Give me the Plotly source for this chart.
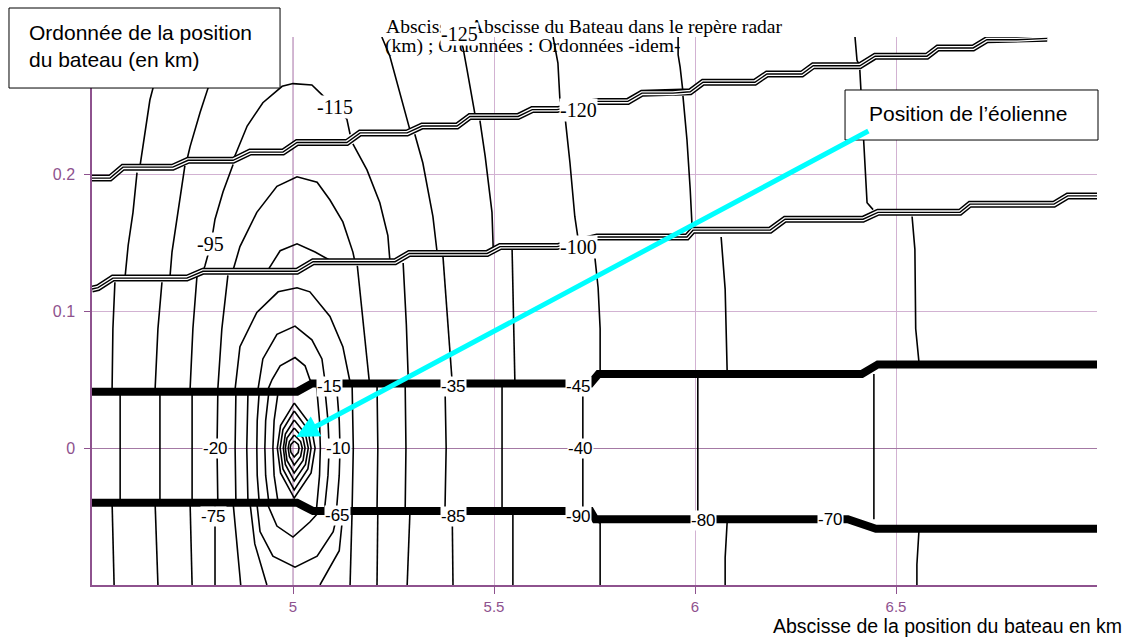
import plotly.graph_objects as go

# ---------------- axes ----------------
x_range = [4.5, 7.0]
y_range = [-0.1, 0.3]
x_ticks = [5, 5.5, 6, 6.5]
x_tick_text = ["5", "5.5", "6", "6.5"]
y_ticks = [0, 0.1, 0.2]
y_tick_text = ["0", "0.1", "0.2"]

# ---------------- iso-level lines (x km, y km) ----------------
# region above the upper step band
top_lines = [
    [(4.644, 0.300), (4.652, 0.263), (4.644, 0.254), (4.632, 0.229), (4.619, 0.205)],
    [(4.800, 0.300), (4.789, 0.263), (4.769, 0.245), (4.744, 0.220), (4.736, 0.210)],
    [(4.851, 0.210), (4.886, 0.235), (4.925, 0.252), (4.973, 0.264), (5.000, 0.266),
     (5.047, 0.265), (5.075, 0.257), (5.104, 0.249), (5.134, 0.240), (5.142, 0.229)],
    [(5.221, 0.300), (5.241, 0.286), (5.291, 0.232)],
    [(5.415, 0.300), (5.423, 0.292), (5.433, 0.276), (5.448, 0.249), (5.453, 0.243)],
    [(5.647, 0.300), (5.659, 0.281), (5.664, 0.254), (5.672, 0.247)],
    [(5.958, 0.300), (5.958, 0.287), (5.963, 0.278), (5.970, 0.260)],
    [(6.398, 0.300), (6.403, 0.283), (6.410, 0.279)],
]

# region between the two step bands
upper_lines = [
    [(4.612, 0.201), (4.602, 0.172), (4.590, 0.148), (4.582, 0.124)],
    [(4.731, 0.206), (4.714, 0.172), (4.699, 0.143), (4.694, 0.125)],
    [(4.851, 0.207), (4.826, 0.187), (4.806, 0.167), (4.796, 0.149), (4.781, 0.133), (4.776, 0.129)],
    [(4.851, 0.130), (4.868, 0.147), (4.910, 0.172), (4.960, 0.191), (5.010, 0.198),
     (5.060, 0.194), (5.092, 0.181), (5.124, 0.165), (5.149, 0.143), (5.154, 0.136)],
    [(4.938, 0.130), (4.968, 0.144), (5.010, 0.149), (5.055, 0.143), (5.092, 0.137)],
    [(5.149, 0.222), (5.184, 0.203), (5.216, 0.179), (5.236, 0.155), (5.241, 0.137)],
    [(5.303, 0.229), (5.323, 0.208), (5.348, 0.169), (5.358, 0.144)],
    [(5.465, 0.239), (5.478, 0.213), (5.495, 0.172), (5.498, 0.146)],
    [(5.677, 0.241), (5.689, 0.208), (5.701, 0.169), (5.706, 0.157), (5.711, 0.149)],
    [(5.970, 0.257), (5.980, 0.225), (5.988, 0.189), (5.993, 0.160)],
    [(6.410, 0.276), (6.418, 0.232), (6.423, 0.203), (6.428, 0.179), (6.443, 0.174)],
]

# region between the lower step band and the upper heavy line
mid_upper_lines = [
    [(4.557, 0.121), (4.552, 0.087), (4.550, 0.043)],
    [(4.674, 0.121), (4.664, 0.087), (4.657, 0.043)],
    [(4.761, 0.125), (4.751, 0.087), (4.744, 0.043)],
    [(4.838, 0.126), (4.823, 0.087), (4.813, 0.043)],
    [(4.856, 0.043), (4.868, 0.074), (4.910, 0.099), (4.963, 0.114), (5.010, 0.117),
     (5.042, 0.114), (5.092, 0.096), (5.124, 0.074), (5.142, 0.048)],
    [(4.913, 0.043), (4.925, 0.065), (4.960, 0.083), (5.005, 0.089), (5.047, 0.079),
     (5.072, 0.065), (5.080, 0.048)],
    [(4.938, 0.043), (4.948, 0.050), (4.968, 0.060), (5.005, 0.066), (5.030, 0.060),
     (5.042, 0.050), (5.047, 0.048)],
    [(5.160, 0.133), (5.175, 0.090), (5.190, 0.048)],
    [(5.274, 0.135), (5.282, 0.090), (5.287, 0.048)],
    [(5.373, 0.140), (5.385, 0.090), (5.396, 0.048)],
    [(5.545, 0.145), (5.548, 0.090), (5.552, 0.048)],
    [(5.735, 0.142), (5.751, 0.139), (5.759, 0.117), (5.764, 0.087), (5.764, 0.056)],
    [(6.065, 0.154), (6.075, 0.116), (6.080, 0.056)],
    [(6.540, 0.169), (6.547, 0.145), (6.549, 0.087), (6.557, 0.063)],
]

# central strip between the two heavy lines
center_lines = [
    [(4.570, 0.041), (4.570, -0.040)],
    [(4.669, 0.041), (4.669, -0.040)],
    [(4.749, 0.041), (4.749, -0.040)],
    [(4.813, 0.041), (4.811, 0.0), (4.813, -0.040)],
    [(4.858, 0.041), (4.856, 0.0), (4.858, -0.040)],
    [(4.888, 0.041), (4.885, 0.0), (4.888, -0.040)],
    [(4.916, 0.041), (4.911, 0.020), (4.910, 0.0), (4.911, -0.020), (4.916, -0.040)],
    [(4.940, 0.041), (4.932, 0.020), (4.930, 0.0), (4.932, -0.020), (4.940, -0.040)],
    [(4.963, 0.041), (4.953, 0.020), (4.950, 0.0), (4.953, -0.020), (4.963, -0.040)],
    [(5.058, 0.047), (5.066, 0.020), (5.068, 0.0), (5.066, -0.020), (5.058, -0.046)],
    [(5.078, 0.047), (5.087, 0.020), (5.090, 0.0), (5.087, -0.020), (5.078, -0.046)],
    [(5.108, 0.047), (5.115, 0.020), (5.117, 0.0), (5.115, -0.020), (5.108, -0.046)],
    [(5.147, 0.047), (5.150, 0.0), (5.147, -0.046)],
    [(5.209, 0.047), (5.211, 0.0), (5.209, -0.046)],
    [(5.279, 0.047), (5.281, 0.0), (5.279, -0.046)],
    [(5.378, 0.047), (5.381, 0.0), (5.378, -0.046)],
    [(5.520, 0.047), (5.520, -0.046)],
    [(5.721, 0.045), (5.721, -0.046)],
    [(6.007, 0.054), (6.007, -0.052)],
    [(6.445, 0.054), (6.445, -0.052)],
]

# closed rings around the turbine
center_rings = [
    [(5.003, 0.0051), (5.013, 0.0026), (5.015, 0.0), (5.013, -0.0033), (5.003, -0.0066),
     (4.995, -0.0033), (4.993, 0.0), (4.995, 0.0026), (5.003, 0.0051)],
    [(5.003, 0.0095), (5.019, 0.0047), (5.023, 0.0), (5.019, -0.0062), (5.003, -0.0124),
     (4.991, -0.0062), (4.988, 0.0), (4.991, 0.0047), (5.003, 0.0095)],
    [(5.003, 0.0146), (5.025, 0.0073), (5.030, 0.0), (5.025, -0.0091), (5.003, -0.0182),
     (4.985, -0.0091), (4.981, 0.0), (4.985, 0.0073), (5.003, 0.0146)],
    [(5.003, 0.0204), (5.031, 0.0102), (5.038, 0.0), (5.031, -0.0120), (5.003, -0.0241),
     (4.981, -0.0120), (4.976, 0.0), (4.981, 0.0102), (5.003, 0.0204)],
    [(5.003, 0.0270), (5.037, 0.0135), (5.045, 0.0), (5.037, -0.0153), (5.003, -0.0306),
     (4.975, -0.0153), (4.968, 0.0), (4.975, 0.0135), (5.003, 0.0270)],
    [(5.003, 0.0328), (5.045, 0.0164), (5.055, 0.0), (5.045, -0.0182), (5.003, -0.0365),
     (4.969, -0.0182), (4.961, 0.0), (4.969, 0.0164), (5.003, 0.0328)],
]

# region below the lower heavy line
mid_lower_lines = [
    [(4.550, -0.040), (4.552, -0.070), (4.555, -0.100)],
    [(4.657, -0.040), (4.660, -0.070), (4.664, -0.100)],
    [(4.744, -0.040), (4.746, -0.070), (4.749, -0.100)],
    [(4.806, -0.040), (4.806, -0.100)],
    [(4.851, -0.040), (4.860, -0.070), (4.870, -0.100)],
    [(4.893, -0.040), (4.905, -0.070), (4.935, -0.100)],
    [(4.910, -0.040), (4.918, -0.061), (4.950, -0.079), (5.005, -0.087), (5.060, -0.079),
     (5.100, -0.061), (5.112, -0.046)],
    [(4.935, -0.040), (4.960, -0.057), (5.000, -0.065), (5.042, -0.054), (5.067, -0.046)],
    [(5.125, -0.046), (5.115, -0.075), (5.067, -0.100)],
    [(5.147, -0.046), (5.145, -0.075), (5.142, -0.100)],
    [(5.211, -0.046), (5.209, -0.100)],
    [(5.291, -0.046), (5.284, -0.100)],
    [(5.396, -0.046), (5.398, -0.100)],
    [(5.547, -0.046), (5.547, -0.100)],
    [(5.739, -0.050), (5.764, -0.055), (5.764, -0.100)],
    [(6.080, -0.054), (6.075, -0.080), (6.075, -0.100)],
    [(6.557, -0.061), (6.552, -0.085), (6.552, -0.100)],
]

# stepped bands where many levels pile up
band_upper = [(4.500, 0.197), (4.545, 0.197), (4.577, 0.205), (4.701, 0.205), (4.739, 0.210),
              (4.851, 0.210), (4.893, 0.216), (4.975, 0.216), (5.010, 0.223), (5.134, 0.223),
              (5.167, 0.230), (5.284, 0.230), (5.321, 0.235), (5.408, 0.235), (5.440, 0.242),
              (5.560, 0.242), (5.595, 0.247), (5.657, 0.247), (5.756, 0.253), (5.833, 0.253),
              (5.868, 0.259), (5.945, 0.259), (5.988, 0.260), (6.020, 0.267), (6.149, 0.267),
              (6.179, 0.273), (6.266, 0.273), (6.294, 0.279), (6.410, 0.279), (6.448, 0.286),
              (6.577, 0.286), (6.604, 0.292), (6.692, 0.292), (6.726, 0.298), (6.801, 0.298),
              (6.876, 0.299)]
band_lower = [(4.500, 0.116), (4.515, 0.117), (4.552, 0.124), (4.736, 0.124), (4.776, 0.129),
              (5.010, 0.129), (5.050, 0.136), (5.254, 0.136), (5.289, 0.142), (5.483, 0.142),
              (5.515, 0.147), (5.657, 0.147), (5.756, 0.154), (5.980, 0.154), (5.995, 0.159),
              (6.187, 0.159), (6.224, 0.167), (6.418, 0.167), (6.455, 0.172), (6.659, 0.172),
              (6.684, 0.178), (6.893, 0.178), (6.927, 0.184), (7.000, 0.184)]

# heavy lines bounding the central strip
heavy_top_x = [4.5, 5.010, 5.047, 5.740, 5.760, 6.415, 6.455, 7.0]
heavy_top_y = [0.041, 0.041, 0.047, 0.047, 0.054, 0.054, 0.061, 0.061]
heavy_bottom_x = [4.5, 5.010, 5.050, 5.740, 5.752, 6.380, 6.450, 7.0]
heavy_bottom_y = [-0.040, -0.040, -0.046, -0.046, -0.052, -0.052, -0.059, -0.059]

# level labels
serif_labels = ["-115", "-125", "-120", "-95", "-100"]
serif_label_x = [5.104, 5.413, 5.711, 4.796, 5.711]
serif_label_y = [0.249, 0.2985, 0.247, 0.149, 0.147]
sans_labels = ["-15", "-35", "-45", "-20", "-10", "-40", "-75", "-65", "-85", "-90", "-80", "-70"]
sans_label_x = [5.090, 5.398, 5.709, 4.806, 5.114, 5.716, 4.803, 5.110, 5.400, 5.709, 6.022, 6.338]
sans_label_y = [0.045, 0.045, 0.045, 0.0, 0.0, 0.0, -0.050, -0.049, -0.050, -0.050, -0.053, -0.052]

# wind turbine and the pointer tail
turbine_x, turbine_y = 5.008, 0.008
pointer_tail_x, pointer_tail_y = 6.435, 0.232


def flatten(paths):
    xs, ys = [], []
    for path in paths:
        for px, py in path:
            xs.append(px)
            ys.append(py)
        xs.append(None)
        ys.append(None)
    return xs, ys


PURPLE = "#8E528E"
GRID = "#D2B2D2"
fig = go.Figure()

all_thin = top_lines + upper_lines + mid_upper_lines + center_lines + center_rings + mid_lower_lines
tx, ty = flatten(all_thin)
fig.add_trace(go.Scatter(x=tx, y=ty, mode="lines", line=dict(color="black", width=1.6),
                         connectgaps=False, hoverinfo="skip"))

for band in (band_upper, band_lower):
    bx, by = flatten([band])
    fig.add_trace(go.Scatter(x=bx, y=by, mode="lines", line=dict(color="black", width=7),
                             hoverinfo="skip"))
    fig.add_trace(go.Scatter(x=bx, y=by, mode="lines", line=dict(color="white", width=4),
                             hoverinfo="skip"))
    fig.add_trace(go.Scatter(x=bx, y=by, mode="lines", line=dict(color="black", width=1.4),
                             hoverinfo="skip"))

fig.add_trace(go.Scatter(x=heavy_top_x, y=heavy_top_y, mode="lines",
                         line=dict(color="black", width=8), hoverinfo="skip"))
fig.add_trace(go.Scatter(x=heavy_bottom_x, y=heavy_bottom_y, mode="lines",
                         line=dict(color="black", width=8), hoverinfo="skip"))

annotations = []
# title (two lines)
annotations.append(dict(xref="paper", yref="paper", x=0.2905, y=1.0200, xanchor="left", yanchor="middle",
                        text="Abscisse : Abscisse du Bateau dans le repère radar", showarrow=False,
                        font=dict(family="Liberation Serif", size=19.6, color="black")))
annotations.append(dict(xref="paper", yref="paper", x=0.2896, y=0.9840, xanchor="left", yanchor="middle",
                        text="(km) ; Ordonnées : Ordonnées -idem-", showarrow=False,
                        font=dict(family="Liberation Serif", size=19.6, color="black")))

for t, lx, ly in zip(serif_labels, serif_label_x, serif_label_y):
    annotations.append(dict(x=lx, y=ly, xref="x", yref="y", text=t, showarrow=False,
                            bgcolor="white", borderpad=0,
                            yshift=5 if t == "-125" else 0,
                            font=dict(family="Liberation Serif", size=20, color="black")))
for t, lx, ly in zip(sans_labels, sans_label_x, sans_label_y):
    annotations.append(dict(x=lx, y=ly, xref="x", yref="y", text=t, showarrow=False,
                            bgcolor="white", borderpad=0,
                            font=dict(family="Liberation Sans", size=17, color="black")))

# text boxes
annotations.append(dict(xref="paper", yref="paper", x=-0.0647, y=0.9836, xanchor="left", yanchor="middle",
                        text="Ordonnée de la position<br>du bateau (en km)", align="left", showarrow=False,
                        font=dict(family="Liberation Sans", size=21, color="black")))
annotations.append(dict(xref="paper", yref="paper", x=0.7711, y=0.8595, xanchor="left", yanchor="middle",
                        text="Position de l’éolienne", showarrow=False,
                        font=dict(family="Liberation Sans", size=21, color="black")))
annotations.append(dict(xref="paper", yref="paper", x=1.0269, y=-0.0750, xanchor="right", yanchor="middle",
                        text="Abscisse de la position du bateau en km", showarrow=False,
                        font=dict(family="Liberation Sans", size=19.5, color="black")))

# pointer to the turbine
annotations.append(dict(x=turbine_x, y=turbine_y, xref="x", yref="y", ax=pointer_tail_x, ay=pointer_tail_y,
                        axref="x", ayref="y", text="", showarrow=True, arrowhead=2, arrowsize=0.9,
                        arrowwidth=5, arrowcolor="#00FFFF", standoff=0))

shapes = [
    dict(type="rect", xref="paper", yref="paper", x0=-0.0826, x1=0.1871, y0=0.9069, y1=1.0529,
         line=dict(color="black", width=1), fillcolor="white", layer="above"),
    dict(type="rect", xref="paper", yref="paper", x0=0.7493, x1=1.001, y0=0.8120, y1=0.9033,
         line=dict(color="black", width=1), fillcolor="white", layer="above"),
    dict(type="line", xref="x", yref="paper", x0=5, x1=5, y0=0, y1=1,
         line=dict(color="#A479A4", width=1), layer="below"),
]

fig.update_layout(
    width=1125, height=637,
    margin=dict(l=92, r=28, t=37, b=52),
    paper_bgcolor="white", plot_bgcolor="white",
    showlegend=False, hovermode=False,
    annotations=annotations, shapes=shapes,
    xaxis=dict(range=x_range, tickvals=x_ticks, ticktext=x_tick_text, showgrid=True, gridcolor=GRID,
               gridwidth=1, zeroline=False, showline=True, linecolor=PURPLE, linewidth=1.5,
               ticks="outside", ticklen=7, tickcolor=PURPLE, tickwidth=1,
               tickfont=dict(family="Liberation Sans", size=15, color=PURPLE)),
    yaxis=dict(range=y_range, tickvals=y_ticks, ticktext=y_tick_text, showgrid=True, gridcolor=GRID,
               gridwidth=1, zeroline=True, zerolinecolor="#A479A4", zerolinewidth=1,
               showline=True, linecolor=PURPLE, linewidth=1.5,
               ticks="outside", ticklen=6, tickcolor=PURPLE, tickwidth=1, ticklabelstandoff=6,
               tickfont=dict(family="Liberation Sans", size=16, color=PURPLE)),
)

fig.write_html("out.html")
